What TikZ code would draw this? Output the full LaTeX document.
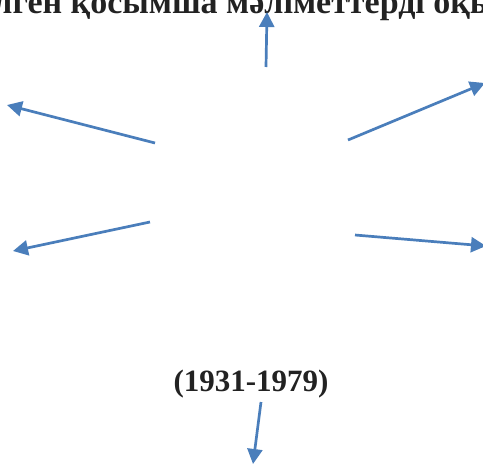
\documentclass[tikz,border=0pt]{standalone}
\usepackage{fontspec}
\setmainfont{Liberation Serif}
\usetikzlibrary{arrows.meta}
\definecolor{arrblue}{HTML}{4A7EBB}
\definecolor{txt}{HTML}{222222}
\tikzset{
  ptr/.style={draw=arrblue, line width=2.7pt, -{Triangle[length=15pt,width=15pt]}},
  lbl/.style={text=txt, font=\bfseries\fontsize{31}{35}\selectfont, inner sep=0pt},
  ttl/.style={text=txt, font=\bfseries\fontsize{34}{38}\selectfont, inner sep=0pt}
}
\begin{document}
\begin{tikzpicture}[x=1pt,y=-1pt]
\useasboundingbox (0,0) rectangle (483,464);
\clip (0,0) rectangle (483,464);
\node[ttl, anchor=base] (title) at (245,13) {лген қосымша мәліметтерді оқы};
\node[lbl, anchor=base] (years) at (251,391) {(1931-1979)};
\coordinate (s1) at (266,67);  \coordinate (e1) at (267,12);
\coordinate (s2) at (155,143); \coordinate (e2) at (7,105);
\coordinate (s3) at (348,140); \coordinate (e3) at (485,83);
\coordinate (s4) at (150,222); \coordinate (e4) at (13,251);
\coordinate (s5) at (355,235); \coordinate (e5) at (486,246);
\coordinate (s6) at (261,402); \coordinate (e6) at (253,464);
\foreach \i in {1,...,6} \draw[ptr] (s\i) -- (e\i);
\end{tikzpicture}
\end{document}
